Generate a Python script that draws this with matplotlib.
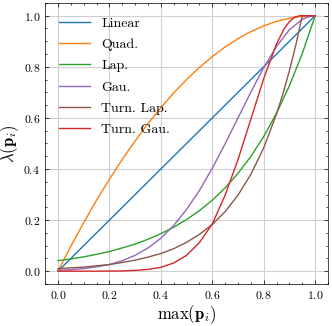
import matplotlib
matplotlib.use("Agg")
import matplotlib.pyplot as plt
from matplotlib.ticker import MultipleLocator

# values
x = [0.0, 0.05, 0.1, 0.15, 0.2, 0.25, 0.3, 0.35, 0.4, 0.45, 0.5,
     0.55, 0.6, 0.65, 0.7, 0.75, 0.8, 0.85, 0.9, 0.95, 1.0]

linear = [0.0, 0.05, 0.1, 0.15, 0.2, 0.25, 0.3, 0.35, 0.4, 0.45, 0.5,
          0.55, 0.6, 0.65, 0.7, 0.75, 0.8, 0.85, 0.9, 0.95, 1.0]
quad = [0.0, 0.098, 0.19, 0.278, 0.36, 0.438, 0.51, 0.578, 0.64, 0.698, 0.75,
        0.798, 0.84, 0.878, 0.91, 0.938, 0.96, 0.978, 0.99, 0.998, 1.0]
lap = [0.041, 0.048, 0.056, 0.066, 0.077, 0.091, 0.106, 0.125, 0.147, 0.172, 0.202,
       0.237, 0.278, 0.326, 0.383, 0.449, 0.527, 0.619, 0.726, 0.852, 1.0]

x_gau = [0.0, 0.05, 0.1, 0.15, 0.2, 0.25, 0.3, 0.35, 0.4, 0.45, 0.5,
         0.55, 0.6, 0.65, 0.7, 0.75, 0.8, 0.85, 0.9, 0.95, 0.975, 1.0]
gau = [0.003, 0.006, 0.010, 0.017, 0.026, 0.041, 0.062, 0.091, 0.129, 0.179, 0.242,
       0.316, 0.403, 0.499, 0.600, 0.701, 0.797, 0.880, 0.945, 0.986, 0.996, 1.0]

x_tlap = [0.0, 0.05, 0.1, 0.15, 0.2, 0.25, 0.3, 0.35, 0.4, 0.45, 0.5,
          0.55, 0.6, 0.65, 0.7, 0.75, 0.8, 0.85, 0.875, 0.9, 0.925, 0.95, 1.0]
turn_lap = [0.010, 0.013, 0.016, 0.021, 0.026, 0.034, 0.043, 0.055, 0.069, 0.088, 0.113,
            0.144, 0.183, 0.233, 0.298, 0.379, 0.483, 0.616, 0.695, 0.785, 0.886, 1.0, 1.0]

x_tgau = [0.0, 0.05, 0.1, 0.15, 0.2, 0.25, 0.3, 0.35, 0.4, 0.45, 0.5,
          0.55, 0.6, 0.65, 0.7, 0.75, 0.8, 0.85, 0.88, 0.9, 0.92, 0.94, 1.0]
turn_gau = [0.0, 0.0, 0.0, 0.0, 0.0004, 0.001, 0.003, 0.007, 0.015, 0.032, 0.062,
            0.112, 0.185, 0.298, 0.437, 0.595, 0.754, 0.890, 0.950, 0.977, 0.994, 1.0, 1.0]

series = [
    ("Linear", x, linear, "#1f77b4"),
    ("Quad.", x, quad, "#ff7f0e"),
    ("Lap.", x, lap, "#2ca02c"),
    ("Gau.", x_gau, gau, "#9467bd"),
    ("Turn. Lap.", x_tlap, turn_lap, "#8c564b"),
    ("Turn. Gau.", x_tgau, turn_gau, "#d62728"),
]

plt.rcParams["font.family"] = "cmr10"
plt.rcParams["mathtext.fontset"] = "cm"
plt.rcParams["axes.formatter.use_mathtext"] = True

fig = plt.figure(figsize=(3.32, 3.26), dpi=100)
ax = fig.add_axes([0.136, 0.129, 0.852, 0.862])

for label, xs, ys, c in series:
    ax.plot(xs, ys, color=c, linewidth=1.0, label=label)

ax.set_xlim(-0.05, 1.05)
ax.set_ylim(-0.05, 1.05)
ax.xaxis.set_major_locator(MultipleLocator(0.2))
ax.yaxis.set_major_locator(MultipleLocator(0.2))
ax.xaxis.set_minor_locator(MultipleLocator(0.05))
ax.yaxis.set_minor_locator(MultipleLocator(0.05))
ax.tick_params(which="both", direction="in", top=True, right=True, labelsize=8.5)
ax.tick_params(which="major", length=3, width=0.5)
ax.tick_params(which="minor", length=1.5, width=0.5)
for s in ax.spines.values():
    s.set_linewidth(0.5)
ax.grid(True, color="#d0d0d0", linewidth=0.8)
ax.set_axisbelow(True)

ax.set_xlabel(r"$\max(\mathbf{p}_i)$", fontsize=12, labelpad=2)
ax.set_ylabel(r"$\lambda(\mathbf{p}_i)$", fontsize=12)
ax.yaxis.set_label_coords(-0.085, 0.5)

ax.legend(loc="upper left", frameon=False, fontsize=10, handlelength=2.2,
          handletextpad=0.85, labelspacing=0.62, borderaxespad=0.6)

fig.savefig("out.png", dpi=100)
